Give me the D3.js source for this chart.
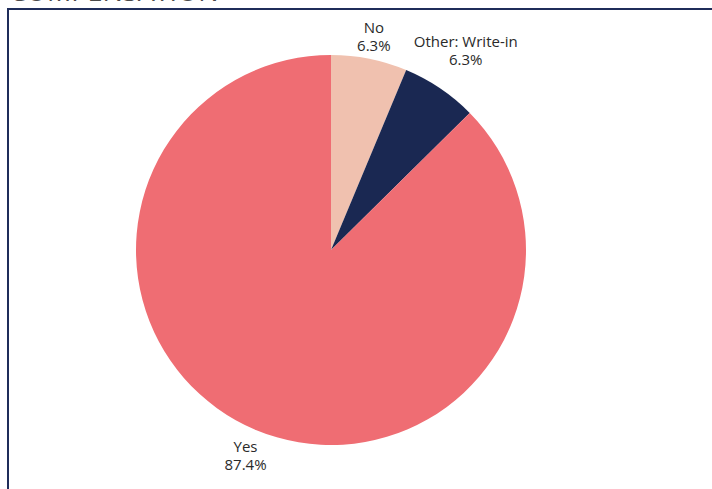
<!DOCTYPE html>
<html>
<head>
<meta charset="utf-8">
<script src="https://cdn.jsdelivr.net/npm/d3@7"></script>
<style>
  html, body { margin: 0; padding: 0; background: #ffffff; overflow: hidden; }
  svg { display: block; font-family: "Open Sans", "Noto Sans", sans-serif; }
</style>
</head>
<body>
<svg id="chart" width="712" height="489"></svg>
<script>
// Survey answers, in the order they are drawn clockwise from 12 o'clock
const categories = ["No", "Other: Write-in", "Yes"];
const shares = [6.3, 6.3, 87.4];
const sliceColors = ["#F0C1AF", "#1A2852", "#EF6D73"];

const svg = d3.select("#chart");
const W = 712, H = 489;

// Section title, mostly scrolled above the frame
svg.append("text")
  .attr("x", 9).attr("y", 0.5)
  .attr("font-size", 27)
  .attr("fill", "#4a4a4a")
  .text("COMPENSATION");

// Card frame
svg.append("rect")
  .attr("x", 8).attr("y", 9)
  .attr("width", W + 20).attr("height", H + 20)
  .attr("fill", "#ffffff")
  .attr("stroke", "#1F2D5A")
  .attr("stroke-width", 2);

const cx = 331, cy = 250, r = 195;

const pie = d3.pie().sort(null).value(d => d.value);
const arcs = pie(categories.map((c, i) => ({ name: c, value: shares[i], color: sliceColors[i] })));
const arcGen = d3.arc().innerRadius(0).outerRadius(r);

const g = svg.append("g").attr("transform", `translate(${cx},${cy})`);

g.selectAll("path.slice")
  .data(arcs)
  .join("path")
  .attr("class", "slice")
  .attr("d", arcGen)
  .attr("fill", d => d.data.color);

// Outside labels: name over percentage, pushed out until the box clears the rim
const gap = 1;
const labels = g.selectAll("g.lbl")
  .data(arcs)
  .join("g")
  .attr("class", "lbl");

labels.each(function(d) {
  const sel = d3.select(this);
  const t = sel.append("text")
    .attr("text-anchor", "middle")
    .attr("font-size", 15)
    .attr("fill", "#2a2a2a");
  t.append("tspan").attr("x", 0).attr("dy", "-0.15em").text(d.data.name);
  t.append("tspan").attr("x", 0).attr("dy", "1.2em").text(d3.format(".1f")(d.data.value) + "%");
  const bb = t.node().getBBox();
  const mid = (d.startAngle + d.endAngle) / 2;
  const sx = Math.sin(mid), cy2 = -Math.cos(mid);
  const dist = r + gap + Math.abs(sx) * bb.width / 2 + Math.abs(cy2) * bb.height / 2;
  const bx = bb.x + bb.width / 2, by = bb.y + bb.height / 2;
  sel.attr("transform", `translate(${sx * dist - bx},${cy2 * dist - by})`);
});
</script>
</body>
</html>
